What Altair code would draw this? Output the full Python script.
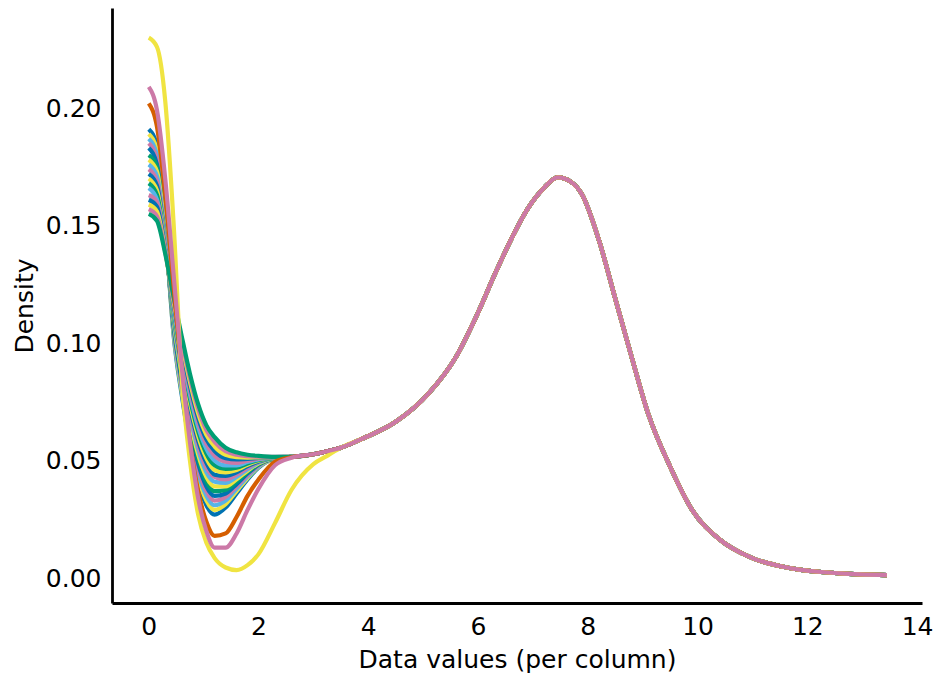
import altair as alt
import pandas as pd

# x positions of the left part (where the columns differ)
HEAD_X = [0.0, 0.15, 0.3, 0.45, 0.6, 0.75, 0.9, 1.05, 1.2, 1.4, 1.6, 1.8, 2.0, 2.3, 2.6, 3.0, 3.25]

# per-column densities on HEAD_X
HEADS = [
    [0.191, 0.184, 0.150, 0.104, 0.0780, 0.0570, 0.0410, 0.031, 0.027, 0.0300, 0.036, 0.0420, 0.0470, 0.0508, 0.0516, 0.0527, 0.054],
    [0.189, 0.182, 0.149, 0.105, 0.0795, 0.0588, 0.0429, 0.033, 0.029, 0.0315, 0.037, 0.0426, 0.0473, 0.0508, 0.0516, 0.0527, 0.054],
    [0.187, 0.180, 0.149, 0.106, 0.0810, 0.0605, 0.0449, 0.035, 0.031, 0.0330, 0.038, 0.0432, 0.0476, 0.0509, 0.0516, 0.0527, 0.054],
    [0.185, 0.178, 0.148, 0.107, 0.0824, 0.0623, 0.0468, 0.037, 0.033, 0.0345, 0.039, 0.0438, 0.0479, 0.0509, 0.0516, 0.0527, 0.054],
    [0.183, 0.176, 0.147, 0.108, 0.0839, 0.0641, 0.0488, 0.039, 0.035, 0.0360, 0.040, 0.0445, 0.0482, 0.0510, 0.0516, 0.0527, 0.054],
    [0.180, 0.175, 0.146, 0.109, 0.0854, 0.0658, 0.0507, 0.041, 0.037, 0.0375, 0.041, 0.0451, 0.0485, 0.0510, 0.0516, 0.0527, 0.054],
    [0.178, 0.173, 0.146, 0.110, 0.0868, 0.0676, 0.0526, 0.043, 0.039, 0.0390, 0.042, 0.0457, 0.0488, 0.0511, 0.0516, 0.0527, 0.054],
    [0.176, 0.171, 0.145, 0.111, 0.0883, 0.0694, 0.0546, 0.045, 0.041, 0.0405, 0.043, 0.0463, 0.0491, 0.0511, 0.0516, 0.0527, 0.054],
    [0.174, 0.169, 0.144, 0.112, 0.0898, 0.0711, 0.0565, 0.047, 0.043, 0.0420, 0.044, 0.0469, 0.0494, 0.0512, 0.0516, 0.0527, 0.054],
    [0.172, 0.167, 0.144, 0.112, 0.0912, 0.0729, 0.0585, 0.049, 0.044, 0.0435, 0.045, 0.0476, 0.0496, 0.0512, 0.0516, 0.0527, 0.054],
    [0.170, 0.165, 0.143, 0.113, 0.0927, 0.0746, 0.0604, 0.051, 0.046, 0.0450, 0.046, 0.0482, 0.0499, 0.0513, 0.0516, 0.0527, 0.054],
    [0.168, 0.163, 0.142, 0.114, 0.0942, 0.0764, 0.0624, 0.053, 0.048, 0.0465, 0.047, 0.0488, 0.0502, 0.0513, 0.0516, 0.0527, 0.054],
    [0.166, 0.161, 0.142, 0.115, 0.0957, 0.0782, 0.0643, 0.055, 0.050, 0.0480, 0.048, 0.0494, 0.0505, 0.0514, 0.0516, 0.0527, 0.054],
    [0.163, 0.160, 0.141, 0.116, 0.0971, 0.0799, 0.0662, 0.057, 0.052, 0.0495, 0.049, 0.0500, 0.0508, 0.0514, 0.0516, 0.0527, 0.054],
    [0.161, 0.158, 0.140, 0.117, 0.0986, 0.0817, 0.0682, 0.059, 0.054, 0.0510, 0.0505, 0.0507, 0.0511, 0.0515, 0.0516, 0.0527, 0.054],
    [0.159, 0.156, 0.139, 0.118, 0.1000, 0.0835, 0.0701, 0.061, 0.056, 0.0525, 0.0515, 0.0513, 0.0514, 0.0515, 0.0516, 0.0527, 0.054],
    [0.157, 0.154, 0.139, 0.119, 0.1015, 0.0852, 0.0721, 0.063, 0.058, 0.0540, 0.0525, 0.0519, 0.0517, 0.0516, 0.0516, 0.0527, 0.054],
    [0.155, 0.152, 0.138, 0.120, 0.1030, 0.0870, 0.0740, 0.065, 0.060, 0.0555, 0.0535, 0.0525, 0.0520, 0.0516, 0.0516, 0.0527, 0.054],
    [0.202, 0.192, 0.163, 0.125, 0.0880, 0.0580, 0.0370, 0.024, 0.018, 0.0190, 0.026, 0.0350, 0.0420, 0.0495, 0.0514, 0.0527, 0.054],
    [0.230, 0.226, 0.203, 0.152, 0.0850, 0.0500, 0.0270, 0.015, 0.0085, 0.0045, 0.0034, 0.0055, 0.0102, 0.0234, 0.0375, 0.0485, 0.052],
    [0.209, 0.199, 0.170, 0.130, 0.0900, 0.0580, 0.0340, 0.020, 0.013, 0.0130, 0.019, 0.0290, 0.0380, 0.0480, 0.0512, 0.0527, 0.054],
]

COLORS = [
    "#0072B2", "#F0E442", "#56B4E9", "#CC79A7", "#0072B2", "#009E73",
    "#F0E442", "#56B4E9", "#CC79A7", "#0072B2", "#F0E442", "#009E73",
    "#56B4E9", "#CC79A7", "#0072B2", "#F0E442", "#CC79A7", "#009E73",
    "#D55E00", "#F0E442", "#CC79A7",
]

# shared right part (all columns coincide)
TAIL_X = [3.5, 3.9, 4.5, 5.1, 5.6, 6.0, 6.3, 6.6, 6.9, 7.2, 7.45, 7.7, 7.9, 8.2,
          8.5, 8.8, 9.1, 9.5, 9.9, 10.4, 11.0, 11.7, 12.6, 13.45]
TAIL_Y = [0.0555, 0.0594, 0.0665, 0.0786, 0.0942, 0.113, 0.129, 0.144, 0.157, 0.166,
          0.1705, 0.1685, 0.163, 0.144, 0.119, 0.094, 0.070, 0.0474, 0.029, 0.0165,
          0.0085, 0.0042, 0.0020, 0.0013]

rows = []
for i, head in enumerate(HEADS):
    cid = f"c{i:02d}"
    for k, (x, y) in enumerate(zip(HEAD_X + TAIL_X, head + TAIL_Y)):
        rows.append({"col": cid, "x": x, "y": y, "k": k})
df = pd.DataFrame(rows)
ids = [f"c{i:02d}" for i in range(len(HEADS))]

chart = alt.Chart(df).mark_line(strokeWidth=4.2, interpolate="monotone").encode(
    x=alt.X("x:Q",
            scale=alt.Scale(domain=[-0.67, 14.09], nice=False, zero=False),
            axis=alt.Axis(title="Data values (per column)", values=[0, 2, 4, 6, 8, 10, 12, 14],
                          format="d", ticks=False, grid=False, labelPadding=11,
                          titlePadding=8)),
    y=alt.Y("y:Q",
            scale=alt.Scale(domain=[-0.0106, 0.2426], nice=False, zero=False),
            axis=alt.Axis(title="Density", values=[0, 0.05, 0.10, 0.15, 0.20],
                          format=".2f", ticks=False, grid=False, labelPadding=11,
                          titlePadding=8)),
    color=alt.Color("col:N", scale=alt.Scale(domain=ids, range=COLORS), legend=None),
    order=alt.Order("k:Q"),
).properties(
    width=810, height=595,
    autosize=alt.AutoSizeParams(type="none"),
    padding={"left": 112, "top": 8, "right": 14, "bottom": 73},
).configure_view(stroke=None).configure_axis(
    domainColor="black", domainWidth=2.8,
    labelFont="DejaVu Sans", labelFontSize=25, labelColor="black",
    titleFont="DejaVu Sans", titleFontSize=25, titleFontWeight="normal", titleColor="black",
)

chart.save("out.html", embed_options={"renderer": "svg", "actions": False})
